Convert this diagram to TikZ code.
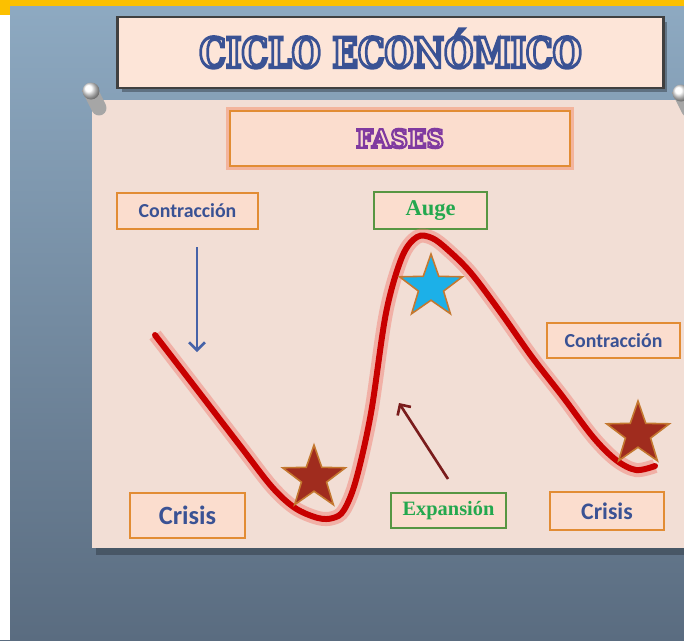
\documentclass[tikz,border=0pt]{standalone}
\usepackage{fontspec}
\usetikzlibrary{shapes.geometric, arrows.meta, calc}
\newfontfamily\labelfont{Carlito}
\newfontfamily\phasefont{Liberation Serif}
\newfontfamily\headfont{DejaVu Serif}
\definecolor{bgtop}{RGB}{142,170,194}
\definecolor{bgbot}{RGB}{90,108,128}
\definecolor{gold}{RGB}{252,192,0}
\definecolor{board}{RGB}{242,222,213}
\definecolor{boxfill}{RGB}{251,221,206}
\definecolor{titlefill}{RGB}{253,229,216}
\definecolor{boxorange}{RGB}{226,140,52}
\definecolor{boxgreen}{RGB}{88,150,66}
\definecolor{textblue}{RGB}{58,82,148}
\definecolor{textgreen}{RGB}{36,168,78}
\definecolor{fasespurple}{RGB}{128,58,160}
\definecolor{curvered}{RGB}{200,0,0}
\definecolor{glowred}{RGB}{240,120,110}
\definecolor{gloworange}{RGB}{245,140,100}
\definecolor{starbrown}{RGB}{160,44,30}
\definecolor{starrim}{RGB}{196,120,48}
\definecolor{starblue}{RGB}{28,176,232}
\definecolor{arrowblue}{RGB}{70,98,168}
\definecolor{arrowred}{RGB}{122,28,28}
\newcommand{\hollow}[2]{\special{pdf:code 1 Tr #1 w}#2\special{pdf:code 0 Tr}}
\tikzstyle{orangebox} = [draw=boxorange, line width=1.1pt, fill=boxfill, inner sep=0pt]
\tikzstyle{greenbox} = [draw=boxgreen, line width=1.1pt, fill=boxfill, inner sep=0pt]
\tikzstyle{bluelabel} = [text=textblue, font=\labelfont\bfseries]
\tikzstyle{greenlabel} = [text=textgreen, font=\phasefont\bfseries]
\tikzstyle{starnode} = [star, star points=5, star point ratio=2.5, inner sep=0pt, minimum size=1.32cm, line width=0.9pt, draw=starrim]
\tikzstyle{arrow} = [line width=1.5pt, ->, >={Straight Barb[length=4.5pt, width=9pt]}]
\tikzstyle{redcurve} = [curvered, line width=3.4pt, line cap=round, preaction={draw=glowred, line width=8pt, draw opacity=.45}]

\begin{document}
\begin{tikzpicture}[x=0.02cm, y=-0.02cm]
        \useasboundingbox (0,0) rectangle (684,640);
        
        % background
        \shade[top color=bgtop, bottom color=bgbot] (0,0) rectangle (684,640);
        \fill[white] (0,0) rectangle (10,640);
        \fill[gold] (0,0) rectangle (684,6);
        \fill[gold] (0,0) rectangle (10,15);
        
        % board and pins
        \fill[black, opacity=.25] (96,106) rectangle (684,555);
        \fill[board] (92,100) rectangle (684,548);
        \draw[line width=0.3cm, gray!70, line cap=round] (92,94) -- (99,108);
        \shade[ball color=white] (91,91) circle (0.17cm);
        \draw[line width=0.3cm, gray!70, line cap=round] (682,96) -- (689,110);
        \shade[ball color=white] (681,93) circle (0.17cm);
        
        % title and phases
        \fill[black, opacity=.3] (122,22) rectangle (667,92);
        \node at (390.5,52.5) [draw=darkgray, line width=1.3pt, fill=titlefill, text=textblue, minimum width=10.92cm, minimum height=1.42cm, text height=17pt, text depth=0pt, font=\headfont\bfseries\fontsize{23.5}{28}\selectfont](title) {\scalebox{0.81}[1]{\hollow{1.9}{CICLO ECONÓMICO}}};
        \node at (400,138.5) [orangebox, text=fasespurple, minimum width=6.8cm, minimum height=1.1cm, preaction={draw=gloworange, line width=5pt, draw opacity=.5}, font=\headfont\bfseries\fontsize{14.5}{17}\selectfont](fases) {\scalebox{0.95}[1]{\hollow{1.3}{FASES}}};
        
        \node at (187.5,211) [orangebox, bluelabel, minimum width=2.82cm, minimum height=0.72cm](contrleft) {\fontsize{11.3}{13}\selectfont Contracción};
        \node at (430.5,210.5) [greenbox, greenlabel, minimum width=2.26cm, minimum height=0.74cm](auge) {\fontsize{12.8}{14}\selectfont Auge};
        \node at (613.5,340.5) [orangebox, bluelabel, minimum width=2.66cm, minimum height=0.70cm](contrright) {\fontsize{11.3}{13}\selectfont Contracción};
        \node at (187.5,515.5) [orangebox, bluelabel, minimum width=2.30cm, minimum height=0.90cm](crisisleft) {\fontsize{15}{17}\selectfont Crisis};
        \node at (448.5,510.5) [greenbox, greenlabel, minimum width=2.30cm, minimum height=0.70cm](expansion) {\fontsize{11.6}{13}\selectfont Expansión};
        \node at (607,511) [orangebox, bluelabel, minimum width=2.28cm, minimum height=0.76cm](crisisright) {\fontsize{13.5}{15}\selectfont Crisis};
        
        % cycle
        \draw[redcurve] plot[smooth, tension=0.55] coordinates {(155,335) (195,387) (241,447) (272,487) (295,508) (318,518) (333,518) (344,510) (356,480) (371,413) (386,313) (402,257) (417,237) (432,238) (448,250) (471,273) (501,313) (532,357) (563,397) (593,437) (616,460) (636,470) (655,466)};
        
        \node at (314,478) [starnode, fill=starbrown](starleft) {};
        \node at (431,287) [starnode, fill=starblue](starpeak) {};
        \node at (638,434) [starnode, fill=starbrown](starright) {};
        
        \coordinate (contrstart) at (197,247);
        \coordinate (contrtip) at (197,352);
        \draw[arrow, arrowblue] (contrstart) -- (contrtip);
        \coordinate (expstart) at (448,479);
        \coordinate (exptip) at (399,403);
        \draw[arrow, arrowred] (expstart) -- (exptip);
        
    \end{tikzpicture}
\end{document}
